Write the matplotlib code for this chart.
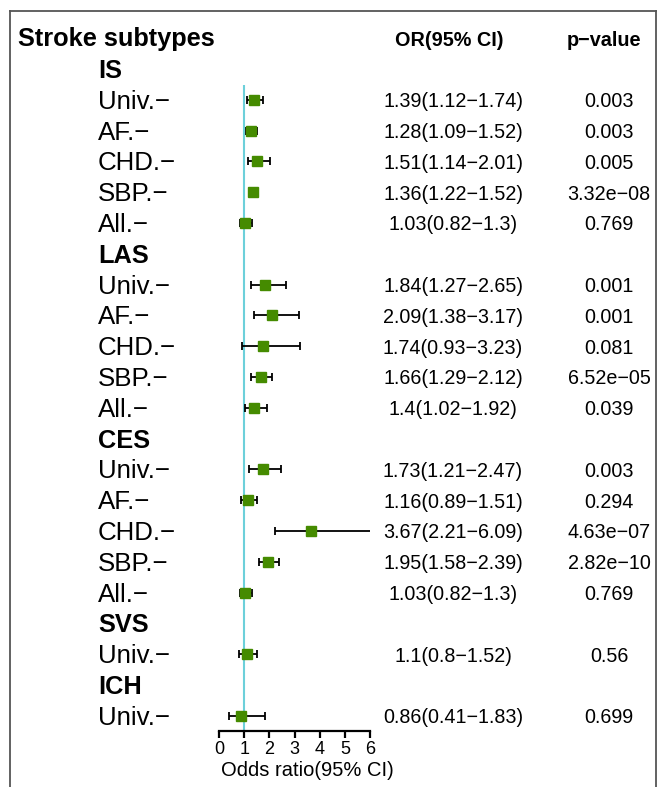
import matplotlib
matplotlib.use("Agg")
import matplotlib.pyplot as plt
import matplotlib.transforms as mtransforms
from matplotlib.lines import Line2D

plt.rcParams['font.family'] = ['Liberation Sans', 'DejaVu Sans']

# ---- data ----
groups = ["IS", "LAS", "CES", "SVS", "ICH"]
group_labels = [
    ["Univ.", "AF.", "CHD.", "SBP.", "All."],
    ["Univ.", "AF.", "CHD.", "SBP.", "All."],
    ["Univ.", "AF.", "CHD.", "SBP.", "All."],
    ["Univ."],
    ["Univ."],
]
or_vals = [
    [1.39, 1.28, 1.51, 1.36, 1.03],
    [1.84, 2.09, 1.74, 1.66, 1.40],
    [1.73, 1.16, 3.67, 1.95, 1.03],
    [1.10],
    [0.86],
]
lo_vals = [
    [1.12, 1.09, 1.14, 1.22, 0.82],
    [1.27, 1.38, 0.93, 1.29, 1.02],
    [1.21, 0.89, 2.21, 1.58, 0.82],
    [0.80],
    [0.41],
]
hi_vals = [
    [1.74, 1.52, 2.01, 1.52, 1.30],
    [2.65, 3.17, 3.23, 2.12, 1.92],
    [2.47, 1.51, 6.09, 2.39, 1.30],
    [1.52],
    [1.83],
]
or_text = [
    ["1.39(1.12\u22121.74)", "1.28(1.09\u22121.52)", "1.51(1.14\u22122.01)", "1.36(1.22\u22121.52)", "1.03(0.82\u22121.3)"],
    ["1.84(1.27\u22122.65)", "2.09(1.38\u22123.17)", "1.74(0.93\u22123.23)", "1.66(1.29\u22122.12)", "1.4(1.02\u22121.92)"],
    ["1.73(1.21\u22122.47)", "1.16(0.89\u22121.51)", "3.67(2.21\u22126.09)", "1.95(1.58\u22122.39)", "1.03(0.82\u22121.3)"],
    ["1.1(0.8\u22121.52)"],
    ["0.86(0.41\u22121.83)"],
]
p_text = [
    ["0.003", "0.003", "0.005", "3.32e\u221208", "0.769"],
    ["0.001", "0.001", "0.081", "6.52e\u221205", "0.039"],
    ["0.003", "0.294", "4.63e\u221207", "2.82e\u221210", "0.769"],
    ["0.56"],
    ["0.699"],
]
xticks = [0, 1, 2, 3, 4, 5, 6]

W, H = 666, 787
fig = plt.figure(figsize=(W / 100, H / 100), dpi=100)

def fx(px):
    return px / W

def fy(py):
    return 1 - py / H

row0, step = 69.0, 30.8
ax_left, ax_right, ax_top, ax_bot = 219, 370, 85, 731
ax = fig.add_axes([fx(ax_left), fy(ax_bot), fx(ax_right - ax_left), (ax_bot - ax_top) / H])
ax.set_xlim(0, 6)
ax.set_ylim((ax_bot - row0) / step, (ax_top - row0) / step)
for s in ["top", "left", "right"]:
    ax.spines[s].set_visible(False)
ax.spines["bottom"].set_linewidth(1.6)
ax.set_yticks([])
ax.set_xticks(xticks)
ax.tick_params(axis='x', direction='out', length=5, width=1.6, labelsize=13, pad=2.5, colors='black')
ax.axvline(1, color="#6cd0da", lw=1.5, zorder=1)

tr0 = mtransforms.blended_transform_factory(fig.transFigure, ax.transData)
tr = mtransforms.offset_copy(tr0, fig=fig, x=0, y=-2.0, units='dots')

fig.text(fx(307), fy(770), "Odds ratio(95% CI)", fontsize=14.5, va='center', ha='center')
fig.text(fx(18), fy(39), "Stroke subtypes", fontsize=18.3, fontweight='bold', va='center', ha='left')
fig.text(fx(449), fy(41), "OR(95% CI)", fontsize=14.3, fontweight='bold', va='center', ha='center')
fig.text(fx(604), fy(41), "p\u2212value", fontsize=14.3, fontweight='bold', va='center', ha='center')

k = 0
for g, labs, ors, los, his, ots, pts in zip(groups, group_labels, or_vals, lo_vals, hi_vals, or_text, p_text):
    ax.text(fx(98), k, g, transform=tr, fontsize=18.3, fontweight='bold', va='center', ha='left', clip_on=False)
    k += 1
    for lab, o, lo, hi, ot, pt in zip(labs, ors, los, his, ots, pts):
        ax.text(fx(98), k, lab + "\u2212", transform=tr, fontsize=18.6, va='center', ha='left', clip_on=False)
        ax.errorbar([o], [k], xerr=[[o - lo], [hi - o]], fmt='none', ecolor='black', elinewidth=1.3, capsize=2.6, capthick=1.3, zorder=2)
        ax.plot([o], [k], marker='s', ms=7.2, color='#458B00', mec='#458B00', zorder=3, clip_on=False)
        ax.text(fx(453), k, ot, transform=tr, fontsize=14.2, va='center', ha='center', clip_on=False)
        ax.text(fx(609), k, pt, transform=tr, fontsize=14.2, va='center', ha='center', clip_on=False)
        k += 1

# frame
frame_col = "#555555"
fig.add_artist(Line2D([fx(10.5), fx(10.5)], [fy(10.5), 0], transform=fig.transFigure, color=frame_col, lw=1.3))
fig.add_artist(Line2D([fx(655.5), fx(655.5)], [fy(10.5), 0], transform=fig.transFigure, color=frame_col, lw=1.3))
fig.add_artist(Line2D([fx(10.5), fx(655.5)], [fy(10.5), fy(10.5)], transform=fig.transFigure, color=frame_col, lw=1.3))

fig.savefig("out.png", dpi=100)
